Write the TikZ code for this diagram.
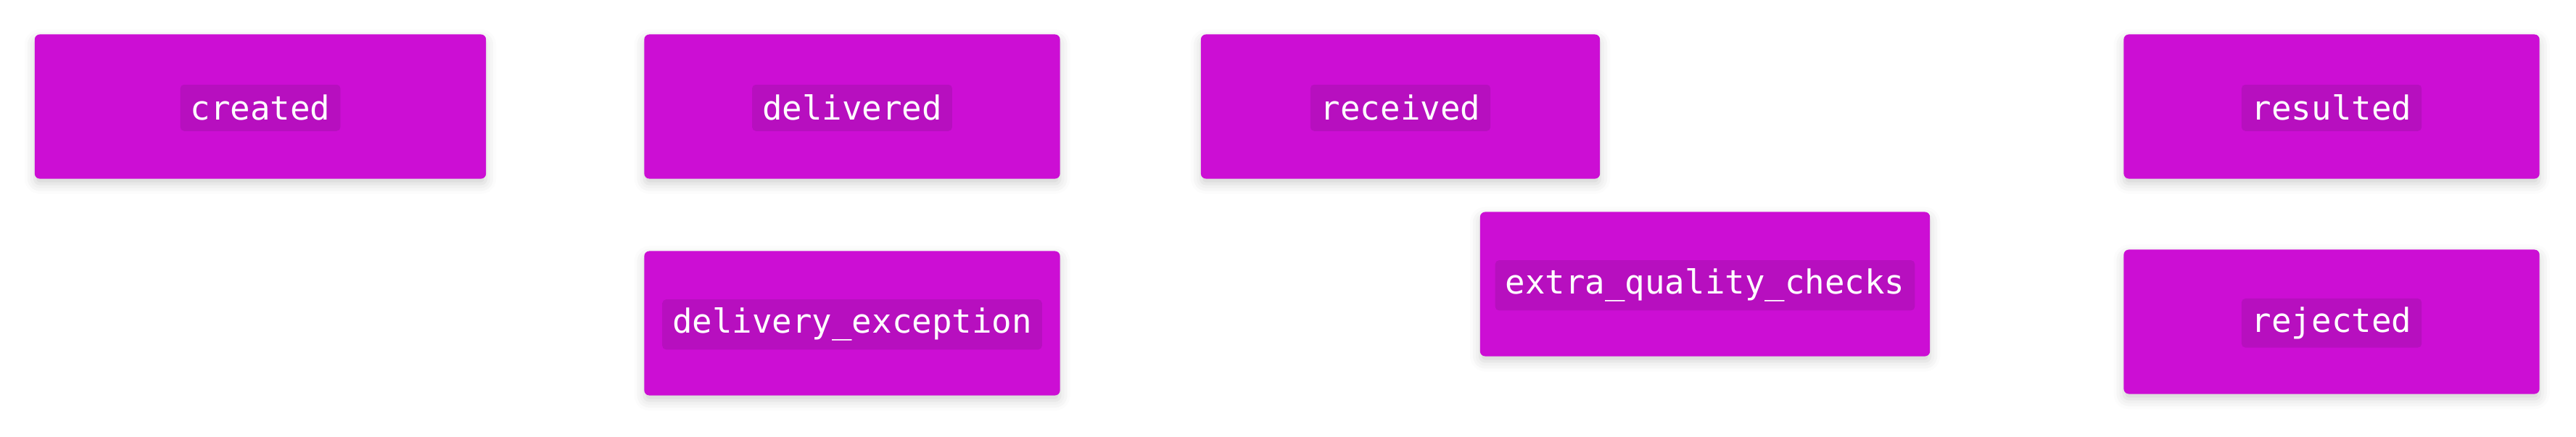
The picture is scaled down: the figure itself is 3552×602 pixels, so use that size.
\documentclass[tikz,border=0pt]{standalone}
\usepackage{fontspec}
\setmonofont{DejaVu Sans Mono}
\usetikzlibrary{shadows.blur}
\definecolor{statefill}{HTML}{CC0ED4}
\definecolor{tagfill}{HTML}{B70FBF}

\begin{document}
\begin{tikzpicture}[x=0.01cm,y=-0.01cm,
  state/.style={rectangle,rounded corners=2pt,fill=statefill,minimum height=1.99cm,
    blur shadow={shadow xshift=0pt,shadow yshift=-2pt,shadow blur radius=4pt,shadow opacity=18}},
  tag/.style={rectangle,rounded corners=1.5pt,fill=tagfill,text=white,yshift=-0.5pt,
    font=\ttfamily\fontsize{13}{15}\selectfont,inner xsep=4pt,minimum height=0.64cm}]
\useasboundingbox (0,0) rectangle (3552,602);
% states
\node[state,minimum width=6.22cm] (created) at (359,147) {};
\node[state,minimum width=5.73cm] (delivered) at (1175,147) {};
\node[state,minimum width=5.50cm] (received) at (1931,147) {};
\node[state,minimum width=5.73cm] (resulted) at (3215,147) {};
\node[state,minimum width=5.73cm] (exception) at (1175,446) {};
\node[state,minimum width=6.20cm] (checks) at (2351,392) {};
\node[state,minimum width=5.73cm] (rejected) at (3215,444) {};
% labels
\node[tag] (createdtag) at (created) {created};
\node[tag] (deliveredtag) at (delivered) {delivered};
\node[tag] (receivedtag) at (received) {received};
\node[tag] (resultedtag) at (resulted) {resulted};
\node[tag] (exceptiontag) at (exception) {delivery\_exception};
\node[tag] (checkstag) at (checks) {extra\_quality\_checks};
\node[tag] (rejectedtag) at (rejected) {rejected};
\end{tikzpicture}
\end{document}
